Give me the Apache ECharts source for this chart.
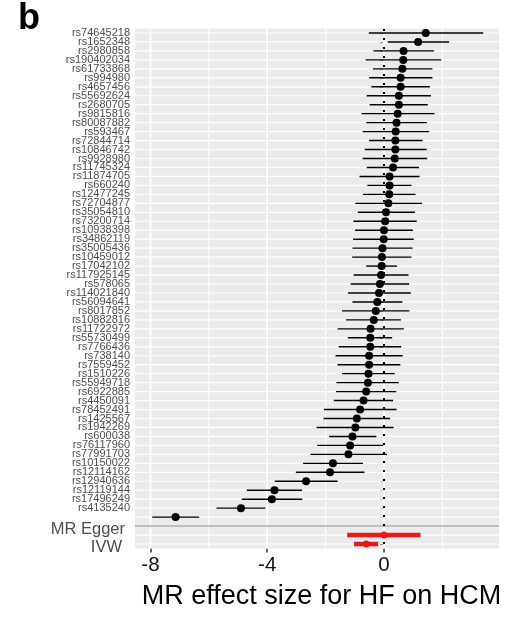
<!DOCTYPE html>
<html>
<head>
<meta charset="utf-8">
<title>MR forest plot: HF on HCM</title>
<script src="https://cdn.jsdelivr.net/npm/echarts@6/dist/echarts.min.js"></script>
<style>
  html, body { margin: 0; padding: 0; background: #ffffff; }
  #chart { width: 510px; height: 623px; }
</style>
</head>
<body>
<div id="chart"></div>
<script>
// Per-SNP Wald ratio estimates (top to bottom); the last row carries no label
const snpNames = [
  'rs74645218', 'rs1652348', 'rs2980858', 'rs190402034', 'rs61733868', 'rs994980',
  'rs4657456', 'rs55692624', 'rs2680705', 'rs9815816', 'rs80087882', 'rs593467',
  'rs72844714', 'rs10846742', 'rs9928980', 'rs11745324', 'rs11874705', 'rs660240',
  'rs12477245', 'rs72704877', 'rs35054810', 'rs73200714', 'rs10938398', 'rs34862119',
  'rs35005436', 'rs10459012', 'rs17042102', 'rs117925145', 'rs578065', 'rs114021840',
  'rs56094641', 'rs8017852', 'rs10882816', 'rs11722972', 'rs55730499', 'rs7766436',
  'rs738140', 'rs7559452', 'rs1510226', 'rs55949718', 'rs6922885', 'rs4450091',
  'rs78452491', 'rs1425567', 'rs1942269', 'rs600038', 'rs76117960', 'rs77991703',
  'rs10150022', 'rs12114162', 'rs12940636', 'rs12119144', 'rs17496249', 'rs4135240',
  ''
];
const snpBeta = [
  1.43, 1.17, 0.67, 0.66, 0.63, 0.57,
  0.57, 0.51, 0.51, 0.47, 0.43, 0.40,
  0.39, 0.39, 0.37, 0.31, 0.19, 0.19,
  0.18, 0.15, 0.07, 0.04, 0.00, -0.01,
  -0.05, -0.07, -0.08, -0.10, -0.14, -0.17,
  -0.23, -0.28, -0.35, -0.46, -0.47, -0.47,
  -0.51, -0.51, -0.53, -0.55, -0.61, -0.70,
  -0.82, -0.93, -0.98, -1.08, -1.16, -1.22,
  -1.75, -1.85, -2.67, -3.75, -3.84, -4.90,
  -7.14
];
const snpLower = [
  -0.52, 0.13, -0.36, -0.63, -0.38, -0.51,
  -0.43, -0.59, -0.49, -0.77, -0.60, -0.73,
  -0.51, -0.66, -0.73, -0.59, -0.84, -0.57,
  -0.72, -0.98, -0.90, -1.05, -0.99, -1.06,
  -1.08, -1.09, -0.61, -1.04, -1.14, -1.23,
  -1.08, -1.44, -1.30, -1.59, -1.24, -1.55,
  -1.66, -1.59, -1.44, -1.63, -1.64, -1.72,
  -2.06, -2.07, -2.31, -1.88, -2.29, -2.52,
  -2.77, -3.02, -3.74, -4.70, -4.87, -5.74,
  -7.94
];
const snpUpper = [
  3.40, 2.23, 1.71, 1.96, 1.66, 1.66,
  1.57, 1.61, 1.50, 1.73, 1.47, 1.55,
  1.32, 1.46, 1.48, 1.20, 1.22, 0.94,
  1.08, 1.30, 1.06, 1.12, 0.99, 1.02,
  0.98, 0.94, 0.45, 0.84, 0.86, 0.92,
  0.63, 0.87, 0.58, 0.68, 0.28, 0.59,
  0.64, 0.56, 0.37, 0.51, 0.42, 0.31,
  0.43, 0.21, 0.33, -0.26, -0.03, 0.10,
  -0.72, -0.67, -1.59, -2.81, -2.80, -4.06,
  -6.33
];

// Pooled estimates
const mrNames = ['MR Egger', 'IVW'];
const mrBeta = [0.00, -0.61];
const mrLower = [-1.26, -1.03];
const mrUpper = [1.25, -0.20];

// Axis breaks
const xMajor = [-8, -4, 0];
const xMinor = [-6, -2, 2];
const xTitle = 'MR effect size for HF on HCM';
const panelTag = 'b';

// One category per row: SNPs, a blank spacer row, then the pooled methods
const rowNames = snpNames.concat([''], mrNames);
const spacerRow = snpNames.length;
const mrRow0 = snpNames.length + 1;

const FONT = '"Liberation Sans", Arial, Helvetica, sans-serif';

const snpBars = snpBeta.map((b, i) => [snpLower[i], snpUpper[i], b, i]);
const snpPoints = snpBeta.map((b, i) => [b, i]);
const mrBars = mrBeta.map((b, i) => [mrLower[i], mrUpper[i], b, mrRow0 + i]);
const mrPoints = mrBeta.map((b, i) => [b, mrRow0 + i]);

const hGridData = rowNames.map((n, i) => [0, i]);
const vGridData = xMajor.map(v => [v, 0, 1]).concat(xMinor.map(v => [v, 0, 0]));

function barRenderer(color, width) {
  return function (params, api) {
    const row = api.value(3);
    const p1 = api.coord([api.value(0), row]);
    const p2 = api.coord([api.value(1), row]);
    return {
      type: 'line',
      shape: { x1: p1[0], y1: p1[1], x2: p2[0], y2: p2[1] },
      style: { stroke: color, lineWidth: width, lineCap: 'butt' }
    };
  };
}

const chart = echarts.init(document.getElementById('chart'), null, { renderer: 'canvas' });

chart.setOption({
  animation: false,
  backgroundColor: '#ffffff',
  title: {
    text: panelTag,
    left: 13,
    top: -4,
    textStyle: { fontFamily: FONT, fontSize: 36, fontWeight: 'bold', color: '#000000' }
  },
  grid: {
    left: 135,
    right: 11,
    top: 28.5,
    height: 520,
    show: true,
    backgroundColor: '#EBEBEB',
    borderWidth: 0,
    containLabel: false
  },
  xAxis: {
    type: 'value',
    min: -8.53,
    max: 3.94,
    name: xTitle,
    nameLocation: 'middle',
    nameGap: 35,
    nameTextStyle: { fontFamily: FONT, fontSize: 27, color: '#000000', padding: [0, 0, 0, 9] },
    axisLine: { show: false },
    axisTick: {
      show: true, length: 4, customValues: xMajor,
      lineStyle: { color: '#333333', width: 1.5 }
    },
    axisLabel: {
      customValues: xMajor,
      margin: 6,
      fontFamily: FONT,
      fontSize: 20.5,
      color: '#111111',
      formatter: v => String(v)
    },
    splitLine: { show: false }
  },
  yAxis: {
    type: 'category',
    data: rowNames,
    inverse: true,
    boundaryGap: true,
    axisLine: { show: false },
    axisTick: {
      show: true, alignWithLabel: true, length: 4, interval: 0,
      lineStyle: { color: '#333333', width: 1 }
    },
    axisLabel: {
      interval: 0,
      margin: 5,
      fontFamily: FONT,
      fontSize: 11,
      color: '#4D4D4D',
      formatter: function (value, idx) {
        if (idx === mrRow0) return '{egg|' + value + '}';
        if (idx === mrRow0 + 1) return '{ivw|' + value + '}';
        return value;
      },
      rich: {
        egg: { fontFamily: FONT, fontSize: 16.5, color: '#4D4D4D', padding: [0, 5, 12, 0] },
        ivw: { fontFamily: FONT, fontSize: 16.5, color: '#4D4D4D', padding: [6, 8, 0, 0] }
      }
    },
    splitLine: { show: false }
  },
  series: [
    {
      // white panel grid: one line per row
      type: 'custom',
      name: 'row grid',
      silent: true,
      z: 1,
      data: hGridData,
      encode: { x: 0, y: 1 },
      renderItem: function (params, api) {
        const y = api.coord([0, api.value(1)])[1];
        const cs = params.coordSys;
        return {
          type: 'line',
          shape: { x1: cs.x, y1: y, x2: cs.x + cs.width, y2: y },
          style: { stroke: '#ffffff', lineWidth: 1.2 }
        };
      }
    },
    {
      // white panel grid: major and minor breaks on x
      type: 'custom',
      name: 'x grid',
      silent: true,
      z: 1,
      data: vGridData,
      encode: { x: 0, y: 1 },
      renderItem: function (params, api) {
        const x = api.coord([api.value(0), 0])[0];
        const cs = params.coordSys;
        return {
          type: 'line',
          shape: { x1: x, y1: cs.y, x2: x, y2: cs.y + cs.height },
          style: { stroke: '#ffffff', lineWidth: api.value(2) ? 1.7 : 1.0 }
        };
      }
    },
    {
      // grey rule on the spacer row between SNPs and pooled estimates
      type: 'custom',
      name: 'spacer',
      silent: true,
      z: 2,
      data: [[0, spacerRow]],
      encode: { x: 0, y: 1 },
      renderItem: function (params, api) {
        const y = api.coord([0, api.value(1)])[1];
        const cs = params.coordSys;
        return {
          type: 'line',
          shape: { x1: cs.x, y1: y, x2: cs.x + cs.width, y2: y },
          style: { stroke: '#BEBEBE', lineWidth: 2 }
        };
      }
    },
    {
      // dotted null line at zero effect
      type: 'custom',
      name: 'null',
      silent: true,
      z: 3,
      data: [[0, 0]],
      encode: { x: 0, y: 1 },
      renderItem: function (params, api) {
        const x = api.coord([api.value(0), 0])[0];
        const cs = params.coordSys;
        return {
          type: 'line',
          shape: { x1: x, y1: cs.y + 0.5, x2: x, y2: cs.y + cs.height },
          style: { stroke: '#000000', lineWidth: 2, lineDash: [2, 7], lineCap: 'butt' }
        };
      }
    },
    {
      type: 'custom',
      name: 'SNP intervals',
      z: 4,
      data: snpBars,
      encode: { x: [0, 1], y: 3 },
      renderItem: barRenderer('#000000', 1.4)
    },
    {
      type: 'scatter',
      name: 'SNP estimates',
      z: 5,
      data: snpPoints,
      symbol: 'circle',
      symbolSize: 8,
      itemStyle: { color: '#000000', opacity: 1 }
    },
    {
      type: 'custom',
      name: 'MR intervals',
      z: 4,
      data: mrBars,
      encode: { x: [0, 1], y: 3 },
      renderItem: barRenderer('#E41A1C', 4.5)
    },
    {
      type: 'scatter',
      name: 'MR estimates',
      z: 5,
      data: mrPoints,
      symbol: 'circle',
      symbolSize: 7,
      itemStyle: { color: '#E41A1C', opacity: 1 }
    }
  ]
});
</script>
</body>
</html>
